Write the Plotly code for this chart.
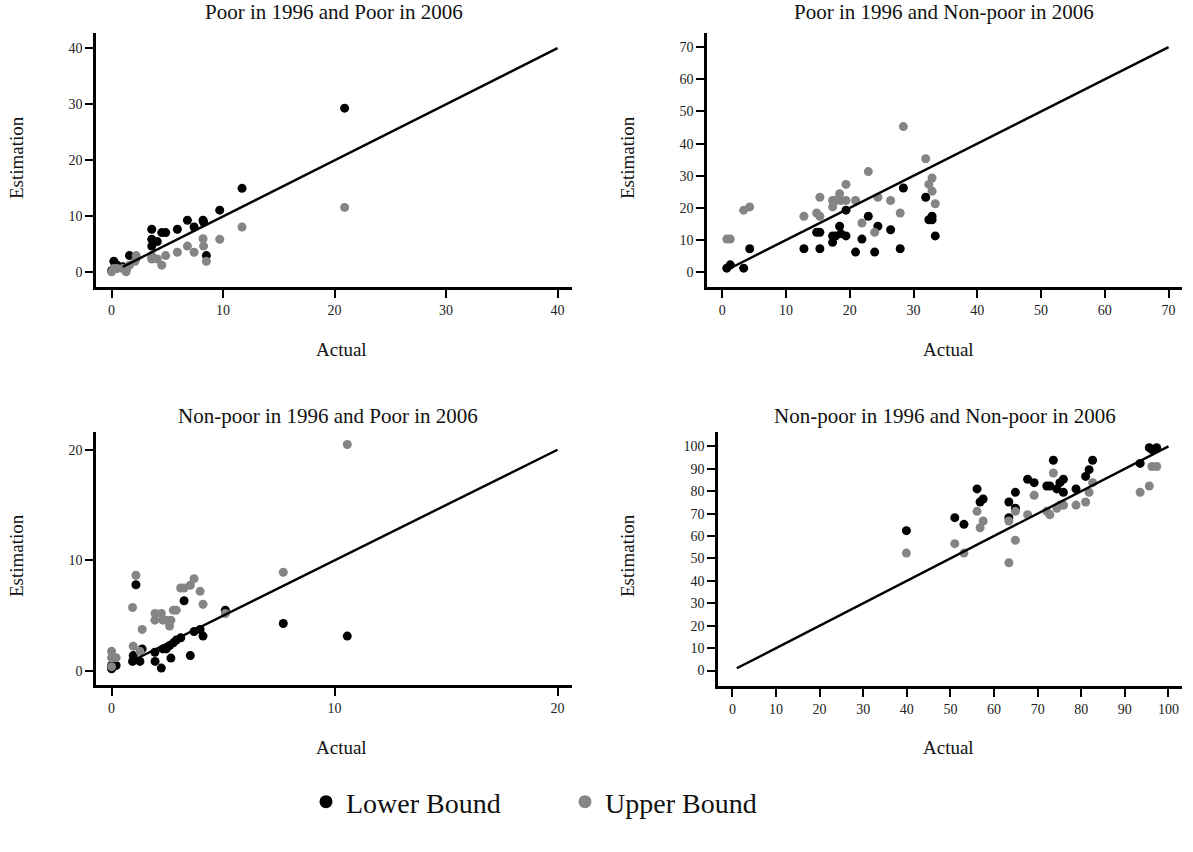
import plotly.graph_objects as go

# ---------------- data ----------------
titles = ["Poor in 1996 and Poor in 2006", "Poor in 1996 and Non-poor in 2006",
          "Non-poor in 1996 and Poor in 2006", "Non-poor in 1996 and Non-poor in 2006"]

actual_pp = [0.0, 0.2, 0.5, 1.0, 1.3, 1.6, 2.1, 2.2, 3.6, 3.6, 3.6, 4.1, 4.5, 4.85, 5.9, 6.8, 7.4, 8.2, 8.25, 8.5, 9.7, 11.7, 20.9]
lower_pp = [0.3, 2.0, 1.3, 1.0, 0.5, 3.0, 2.5, 2.6, 7.7, 5.9, 4.7, 5.5, 7.1, 7.1, 7.7, 9.3, 8.1, 9.3, 9.0, 3.0, 11.1, 15.0, 29.3]
upper_pp = [0.1, 0.7, 0.7, 0.7, 0.1, 1.3, 2.0, 3.0, 3.0, 2.4, 2.6, 2.4, 1.3, 3.0, 3.6, 4.7, 3.6, 6.0, 4.7, 2.0, 5.9, 8.1, 11.6]

actual_pn = [0.7, 1.25, 3.35, 4.3, 12.8, 14.8, 15.3, 15.3, 17.3, 17.3, 17.8, 18.4, 18.6, 19.4, 19.4, 20.9, 21.9, 22.9, 23.9, 24.4, 26.4, 27.9, 28.4, 31.9, 32.4, 32.9, 32.9, 33.4]
lower_pn = [1.25, 2.3, 1.25, 7.3, 7.3, 12.4, 12.4, 7.3, 9.3, 11.3, 11.3, 14.3, 12.0, 11.3, 19.3, 6.25, 10.3, 17.4, 6.25, 14.3, 13.2, 7.3, 26.2, 23.3, 16.3, 17.4, 16.3, 11.3]
upper_pn = [10.3, 10.3, 19.3, 20.3, 17.4, 18.4, 23.3, 17.4, 22.3, 20.3, 22.3, 24.4, 22.3, 27.3, 22.3, 22.3, 15.3, 31.3, 12.4, 23.3, 22.3, 18.4, 45.3, 35.3, 27.3, 29.3, 25.2, 21.3]

actual_np = [0.0, 0.0, 0.2, 0.0, 0.94, 0.97, 1.09, 1.27, 1.37, 1.94, 1.95, 2.23, 2.3, 2.45, 2.6, 2.66, 2.77, 2.9, 3.1, 3.25, 3.53, 3.7, 3.97, 4.1, 5.1, 7.7, 10.57]
lower_np = [0.2, 0.5, 0.5, 0.3, 0.87, 1.4, 7.8, 0.87, 2.0, 1.7, 0.87, 0.27, 2.0, 2.0, 2.3, 1.17, 2.55, 2.8, 3.0, 6.35, 1.4, 3.57, 3.76, 3.16, 5.5, 4.3, 3.16]
upper_np = [1.78, 1.2, 1.2, 0.4, 5.74, 2.25, 8.66, 1.78, 3.76, 4.6, 5.2, 5.2, 4.6, 4.6, 4.06, 4.6, 5.5, 5.5, 7.5, 7.5, 7.75, 8.35, 7.2, 6.04, 5.2, 8.93, 20.47]

actual_nn = [39.9, 51.0, 53.1, 56.1, 56.8, 57.5, 63.4, 63.4, 64.9, 64.9, 67.7, 69.2, 72.1, 72.8, 73.6, 74.4, 75.1, 75.9, 75.9, 78.8, 81.0, 81.8, 82.6, 93.5, 95.6, 96.2, 97.3]
lower_nn = [62.4, 68.2, 65.2, 81.0, 75.2, 76.5, 75.2, 68.2, 79.5, 72.4, 85.3, 83.8, 82.3, 82.3, 93.8, 81.0, 83.8, 85.3, 79.5, 81.0, 86.6, 89.6, 93.8, 92.4, 99.4, 98.6, 99.4]
upper_nn = [52.4, 56.6, 52.4, 71.0, 63.7, 66.7, 66.7, 48.1, 71.0, 58.1, 69.5, 78.2, 71.0, 69.5, 88.1, 72.4, 73.8, 73.8, 73.8, 73.8, 75.2, 79.5, 83.8, 79.5, 82.3, 91.0, 91.0]

line_pp = [1, 40]
line_pn = [1, 70]
line_np = [1, 20]
line_nn = [1, 100]

ticks_pp = [0, 10, 20, 30, 40]
ticks_pn = [0, 10, 20, 30, 40, 50, 60, 70]
ticks_np = [0, 10, 20]
ticks_nn = [0, 10, 20, 30, 40, 50, 60, 70, 80, 90, 100]

# ---------------- figure ----------------
W, H = 1193, 852
FONT = "Liberation Serif, Times New Roman, serif"
BLACK = "#000000"
GRAY = "#858585"

panels = [
    dict(a=actual_pp, lo=lower_pp, up=upper_pp, line=line_pp, ticks=ticks_pp,
         xpx=(96, 572), ypx=(33, 287), xr=[-1.4, 41.3], yr=[-2.6, 42.7],
         tpos=(334, 12), apos=(341, 349), epos=(16, 158)),
    dict(a=actual_pn, lo=lower_pn, up=upper_pn, line=line_pn, ticks=ticks_pn,
         xpx=(707, 1182), ypx=(33, 287), xr=[-2.4, 72.1], yr=[-4.6, 74.4],
         tpos=(944, 12), apos=(948, 349), epos=(627, 158)),
    dict(a=actual_np, lo=lower_np, up=upper_np, line=line_np, ticks=ticks_np,
         xpx=(96, 572), ypx=(432, 685), xr=[-0.7, 20.65], yr=[-1.26, 21.6],
         tpos=(328, 416), apos=(341, 747), epos=(16, 556)),
    dict(a=actual_nn, lo=lower_nn, up=upper_nn, line=line_nn, ticks=ticks_nn,
         xpx=(718, 1182), ypx=(432, 686), xr=[-3.3, 103.1], yr=[-6.9, 106.4],
         tpos=(945, 416), apos=(948, 747), epos=(627, 556)),
]


def ann(text, pos, size, angle=0):
    return dict(text=text, x=pos[0] / W, y=1 - pos[1] / H, xref="paper", yref="paper",
                xanchor="center", yanchor="middle", showarrow=False, textangle=angle,
                font=dict(family=FONT, size=size, color="#111"))


fig = go.Figure()
annotations = []
for i, p in enumerate(panels):
    n = "" if i == 0 else str(i + 1)
    xa, ya = "x" + n, "y" + n
    fig.add_trace(go.Scatter(x=p["a"], y=p["lo"], mode="markers", xaxis=xa, yaxis=ya,
                             marker=dict(color=BLACK, size=9), showlegend=False,
                             name="Lower Bound"))
    fig.add_trace(go.Scatter(x=p["a"], y=p["up"], mode="markers", xaxis=xa, yaxis=ya,
                             marker=dict(color=GRAY, size=9), showlegend=False,
                             name="Upper Bound"))
    fig.add_trace(go.Scatter(x=p["line"], y=p["line"], mode="lines", xaxis=xa, yaxis=ya,
                             line=dict(color=BLACK, width=2.4), showlegend=False))
    axcommon = dict(showline=True, linecolor="black", linewidth=2.5, ticks="outside",
                    ticklen=8, tickwidth=2, tickcolor="black", showgrid=False,
                    zeroline=False, tickfont=dict(family=FONT, size=14, color="#222"),
                    tickvals=p["ticks"], automargin=False)
    fig.layout["xaxis" + n] = dict(axcommon, range=p["xr"], anchor=ya,
                                   domain=[p["xpx"][0] / W, p["xpx"][1] / W])
    fig.layout["yaxis" + n] = dict(axcommon, range=p["yr"], anchor=xa,
                                   domain=[1 - p["ypx"][1] / H, 1 - p["ypx"][0] / H])
    annotations.append(ann(titles[i], p["tpos"], 21))
    annotations.append(ann("Actual", p["apos"], 19))
    annotations.append(ann("Estimation", p["epos"], 19, -90))

# legend entries
fig.add_trace(go.Scatter(x=[None], y=[None], mode="markers", name="Lower Bound",
                         marker=dict(color=BLACK, size=13)))
fig.add_trace(go.Scatter(x=[None], y=[None], mode="markers", name="Upper Bound",
                         marker=dict(color=GRAY, size=13)))

fig.update_layout(
    width=W, height=H, margin=dict(l=0, r=0, t=0, b=0),
    plot_bgcolor="white", paper_bgcolor="white",
    annotations=annotations,
    legend=dict(orientation="h", x=306 / W, xanchor="left", y=1 - 802 / H, yanchor="middle",
                font=dict(family=FONT, size=28, color="#111"),
                entrywidth=214, entrywidthmode="pixels", itemsizing="trace"),
)

fig.write_html("out.html", config={"displayModeBar": False},
               post_script="document.body.style.margin='0';")
